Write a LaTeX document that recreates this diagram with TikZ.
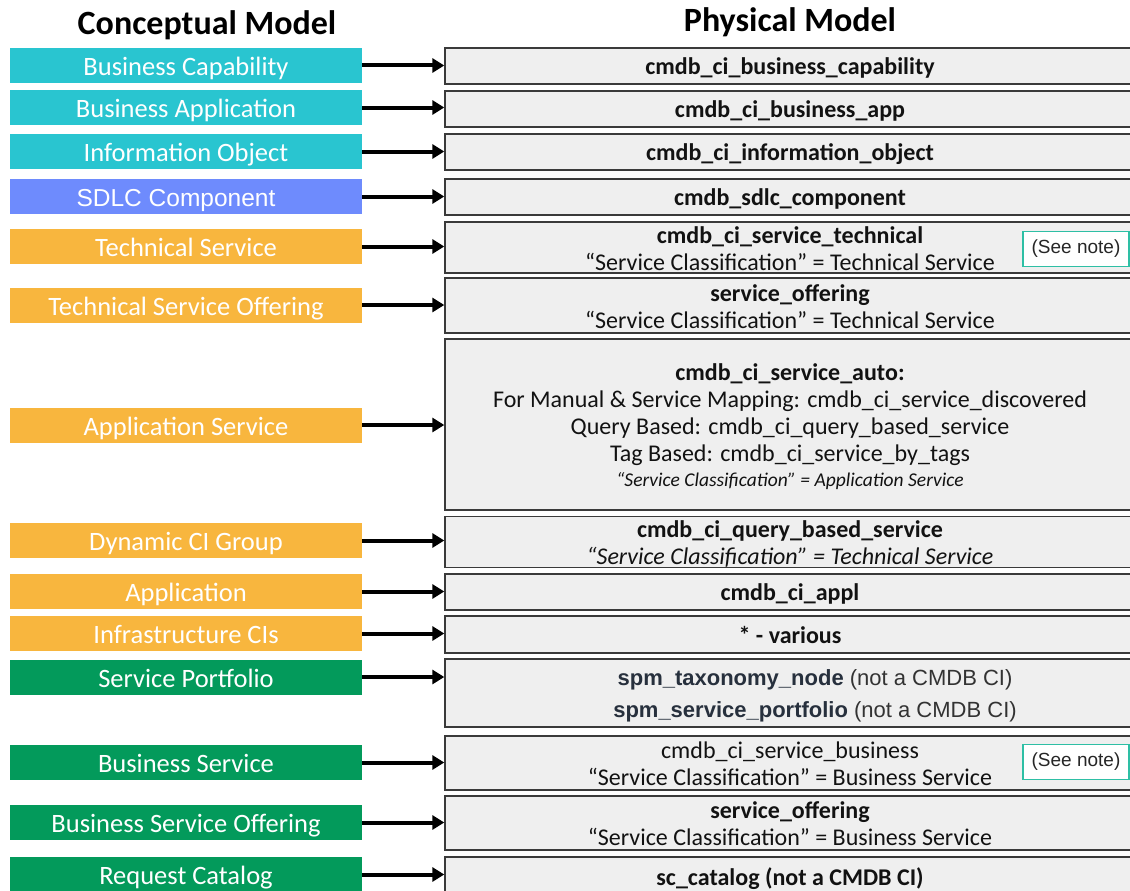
\documentclass[tikz,border=0pt]{standalone}
\usepackage{fontspec}
\setmainfont{Carlito}
\newfontfamily\arialf{Liberation Sans}
\usetikzlibrary{arrows.meta}
\definecolor{cteal}{HTML}{29C5D0}
\definecolor{cblue}{HTML}{6E8BFD}
\definecolor{corange}{HTML}{F8B63E}
\definecolor{cgreen}{HTML}{039A5B}
\definecolor{rfill}{HTML}{EFEFEF}
\definecolor{rborder}{HTML}{3A3A3A}
\definecolor{noteb}{HTML}{2EBFA5}
\definecolor{spmc}{HTML}{27303D}
\newcommand\myTS{\rule{0pt}{21pt}}
\newcommand\myBS{\rule[-3pt]{0pt}{3pt}}
\begin{document}
\begin{tikzpicture}[x=1pt,y=-1pt,
 lbox/.style={minimum width=352pt, minimum height=35pt, inner sep=0pt, text=white,
   font=\fontsize{26.5}{30}\selectfont, text height=21.5pt, text depth=1.4pt},
 rbox/.style={draw=rborder, line width=1.4pt, fill=rfill, minimum width=690pt, inner sep=0pt,
   align=center, text=black!93, font=\fontsize{24}{27}\selectfont},
 conn/.style={line width=4pt, -{Triangle[length=12pt,width=14pt]}},
 notebox/.style={draw=noteb, line width=1.2pt, fill=white, minimum width=106pt, minimum height=35pt,
   inner sep=0pt, font=\arialf\fontsize{19}{22}\selectfont, text=black!85},
 title/.style={font=\bfseries\fontsize{34}{40}\selectfont}]
\useasboundingbox (0,0) rectangle (1130,891);
\clip (0,0) rectangle (1130,891);

\node[title] (tc) at (207,25) {Conceptual Model};
\node[title] (tp) at (790,22) {Physical Model};

% left column
\node[lbox, fill=cteal] (l1) at (186,65.5) {Business Capability};
\node[lbox, fill=cteal] (l2) at (186,107.5) {Business Application};
\node[lbox, fill=cteal] (l3) at (186,151.5) {Information Object};
\node[lbox, fill=cblue, font=\arialf\fontsize{24.5}{27}\selectfont] (l4) at (186,196.5) {SDLC Component\hspace*{20pt}};
\node[lbox, fill=corange] (l5) at (186,246.5) {Technical Service};
\node[lbox, fill=corange] (l6) at (186,305) {Technical Service Offering};
\node[lbox, fill=corange] (l7) at (186,425) {Application Service};
\node[lbox, fill=corange] (l8) at (186,540.5) {Dynamic CI Group};
\node[lbox, fill=corange] (l9) at (186,591.5) {Application};
\node[lbox, fill=corange] (l10) at (186,633.5) {Infrastructure CIs};
\node[lbox, fill=cgreen] (l11) at (186,677) {Service Portfolio};
\node[lbox, fill=cgreen] (l12) at (186,762.5) {Business Service};
\node[lbox, fill=cgreen] (l13) at (186,822.5) {Business Service Offering};
\node[lbox, fill=cgreen] (l14) at (186,874.5) {Request Catalog};

% right column
\node[rbox, minimum height=36pt] (r1) at (790,66) {\myTS\textbf{cmdb\_ci\_business\_capability}\myBS};
\node[rbox, minimum height=36pt] (r2) at (790,109) {\myTS\textbf{cmdb\_ci\_business\_app}\myBS};
\node[rbox, minimum height=36pt] (r3) at (790,152) {\myTS\textbf{cmdb\_ci\_information\_object}\myBS};
\node[rbox, minimum height=36pt] (r4) at (790,197) {\myTS\textbf{cmdb\_sdlc\_component}\myBS};
\node[rbox, minimum height=51pt] (r5) at (790,247.5) {\myTS\textbf{cmdb\_ci\_service\_technical}\\“Service Classification” = Technical Service\myBS};
\node[rbox, minimum height=55pt] (r6) at (790,305.5) {\myTS\textbf{service\_offering}\\“Service Classification” = Technical Service\myBS};
\node[rbox, minimum height=171pt] (r7) at (790,424.5) {\myTS\textbf{cmdb\_ci\_service\_auto:}\\For Manual \& Service Mapping: cmdb\_ci\_service\_discovered\\Query Based: cmdb\_ci\_query\_based\_service\\Tag Based: cmdb\_ci\_service\_by\_tags\\[-2pt]{\fontsize{19.5}{21}\selectfont\itshape “Service Classification” = Application Service\myBS}};
\node[rbox, minimum height=50pt] (r8) at (790,542) {\myTS\textbf{cmdb\_ci\_query\_based\_service}\\\textit{“Service Classification” = Technical Service}\myBS};
\node[rbox, minimum height=36pt] (r9) at (790,592) {\myTS\textbf{cmdb\_ci\_appl}\myBS};
\node[rbox, minimum height=37pt] (r10) at (790,634.5) {\myTS\textbf{* - various}\myBS};
\node[rbox, minimum height=68pt, font=\arialf\fontsize{22}{27}\selectfont, text=black!80] (r11) at (790,693) {\hspace*{50pt}\myTS{\color{spmc}\bfseries spm\_taxonomy\_node} (not a CMDB CI)\\[5pt]\hspace*{50pt}{\color{spmc}\bfseries spm\_service\_portfolio} (not a CMDB CI)\myBS};
\node[rbox, minimum height=54pt] (r12) at (790,763) {\myTS cmdb\_ci\_service\_business\\“Service Classification” = Business Service\myBS};
\node[rbox, minimum height=54pt] (r13) at (790,823) {\myTS\textbf{service\_offering}\\“Service Classification” = Business Service\myBS};
\node[rbox, minimum height=40pt] (r14) at (790,877) {\myTS\textbf{sc\_catalog (not a CMDB CI)}\myBS};

% notes
\node[notebox] (n1) at (1076,249) {(See note)};
\node[notebox] (n2) at (1076,762) {(See note)};

% connectors
\foreach \i in {1,...,14}{
  \draw[conn] (l\i.east) -- (l\i.east -| r\i.west);
}
\end{tikzpicture}
\end{document}
